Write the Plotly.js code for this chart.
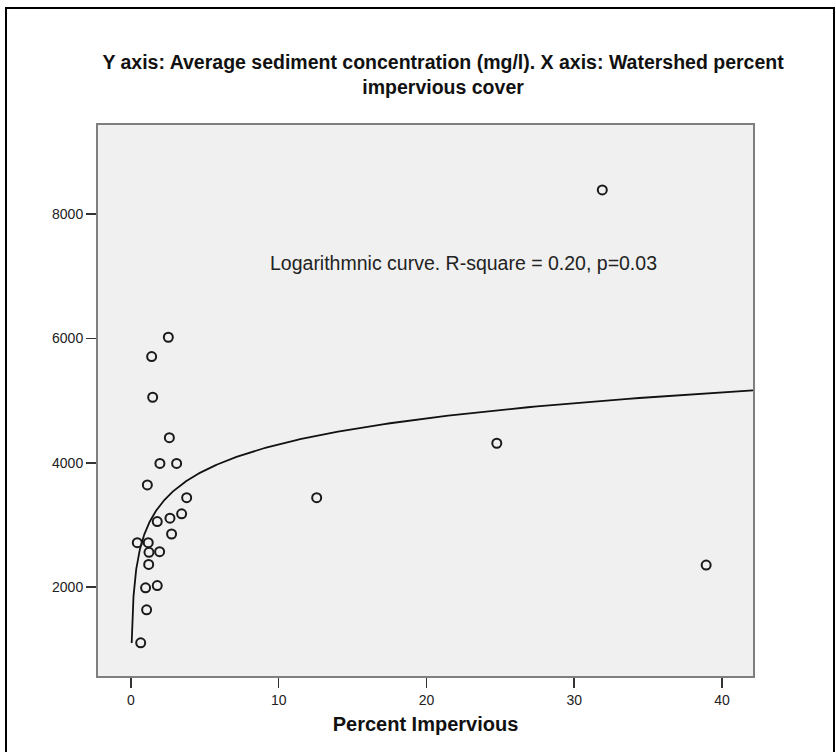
<!DOCTYPE html>
<html>
<head>
<meta charset="utf-8">
<script src="https://cdn.plot.ly/plotly-3.0.1.min.js"></script>
<style>
  html, body { margin: 0; padding: 0; background: #ffffff; overflow: hidden; }
  #chart { position: absolute; left: 0; top: 0; width: 836px; height: 752px; }
  #frame {
    position: absolute; left: 5px; top: 7px; width: 826px; height: 800px;
    border: 2px solid #000; pointer-events: none;
  }
</style>
</head>
<body>
<div id="chart"></div>
<div id="frame"></div>
<script>
// Watershed percent impervious cover (x) and average sediment concentration in mg/l (y)
const impervPct = [2.53, 1.40, 1.47, 2.60, 1.96, 3.09, 1.11, 3.77, 3.43, 2.64, 1.78, 2.75, 0.43,
                   1.17, 1.22, 1.94, 1.20, 0.99, 1.78, 1.06, 0.66, 12.57, 31.9, 24.76, 38.93];
const sedimentConc = [6020, 5710, 5055, 4405, 3990, 3990, 3645, 3440, 3180, 3110, 3055, 2855, 2715,
                      2715, 2560, 2570, 2365, 1990, 2025, 1635, 1105, 3440, 8390, 4315, 2355];

const xTicks = [0, 10, 20, 30, 40];
const yTicks = [2000, 4000, 6000, 8000];
const xRange = [-2.23, 42.1];
const yRange = [571, 9434];
const fitNote = 'Logarithmnic curve. R-square = 0.20, p=0.03';

// Least-squares fit of y = b0 + b1 * ln(x)
const lnX = impervPct.map(v => Math.log(v));
const n = lnX.length;
const mL = lnX.reduce((a, b) => a + b, 0) / n;
const mY = sedimentConc.reduce((a, b) => a + b, 0) / n;
let sxy = 0, sxx = 0;
for (let i = 0; i < n; i++) {
  sxy += (lnX[i] - mL) * (sedimentConc[i] - mY);
  sxx += (lnX[i] - mL) * (lnX[i] - mL);
}
const b1 = sxy / sxx;
const b0 = mY - b1 * mL;

// Curve sampled on a log-spaced grid from near zero to the right edge of the axis
const curveStart = 0.05, curveEnd = xRange[1];
const curveX = [], curveY = [];
for (let k = 0; k <= 300; k++) {
  const xv = curveStart * Math.pow(curveEnd / curveStart, k / 300);
  curveX.push(xv);
  curveY.push(b0 + b1 * Math.log(xv));
}

const traces = [
  {
    x: curveX, y: curveY, type: 'scatter', mode: 'lines',
    line: { color: '#111111', width: 1.8 }, hoverinfo: 'skip', cliponaxis: true
  },
  {
    x: impervPct, y: sedimentConc, type: 'scatter', mode: 'markers',
    marker: { symbol: 'circle-open', size: 9, color: '#1a1a1a', line: { width: 2 } }
  }
];

const tickFont = { family: 'Liberation Sans, Arial, sans-serif', size: 14, color: '#222222' };

const layout = {
  width: 836, height: 752,
  margin: { l: 98, r: 83, t: 125, b: 76 },
  paper_bgcolor: '#ffffff',
  plot_bgcolor: '#f0f0f0',
  showlegend: false,
  title: {
    text: 'Y axis: Average sediment concentration (mg/l). X axis: Watershed percent<br>impervious cover',
    font: { family: 'Liberation Sans, Arial, sans-serif', size: 19.5, color: '#111111', weight: 'bold' },
    x: 0.53, xref: 'container', xanchor: 'center',
    y: 1 - 69 / 752, yref: 'container', yanchor: 'top'
  },
  xaxis: {
    range: xRange, tickvals: xTicks, ticktext: xTicks.map(String),
    showgrid: false, zeroline: false,
    showline: true, linecolor: '#7f7f7f', linewidth: 2, mirror: true,
    ticks: 'outside', ticklen: 10, tickwidth: 1.5, tickcolor: '#333333',
    tickfont: tickFont,
    title: {
      text: 'Percent Impervious', standoff: 10,
      font: { family: 'Liberation Sans, Arial, sans-serif', size: 20, color: '#111111', weight: 'bold' }
    }
  },
  yaxis: {
    range: yRange, tickvals: yTicks, ticktext: yTicks.map(String),
    showgrid: false, zeroline: false,
    showline: true, linecolor: '#7f7f7f', linewidth: 2, mirror: true,
    ticks: 'outside', ticklen: 10, tickwidth: 1.5, tickcolor: '#333333',
    tickfont: tickFont
  },
  annotations: [
    {
      x: 9.28, y: 7214, xref: 'x', yref: 'y', xanchor: 'left', yanchor: 'middle',
      text: fitNote, showarrow: false,
      font: { family: 'Liberation Sans, Arial, sans-serif', size: 19.5, color: '#222222' }
    }
  ]
};

Plotly.newPlot('chart', traces, layout, { staticPlot: true, displayModeBar: false });
</script>
</body>
</html>
